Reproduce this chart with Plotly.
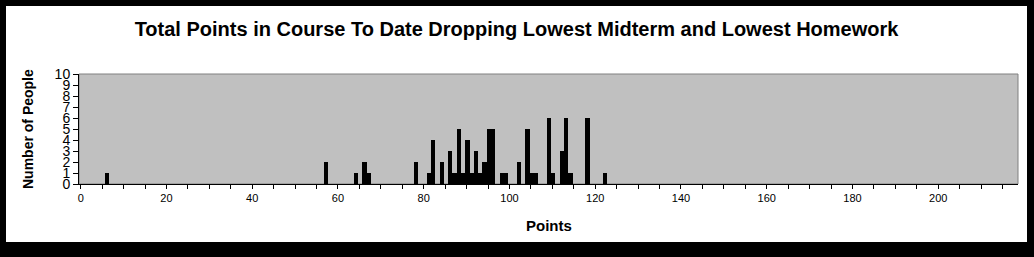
import plotly.graph_objects as go

# Histogram data: points (integer bins) and number of people
points = [6, 57, 64, 66, 67, 78, 81, 82, 84, 86, 87, 88, 89, 90, 91, 92, 93, 94,
          95, 96, 98, 99, 102, 104, 105, 106, 109, 110, 112, 113, 114, 118, 122]
people = [1, 2, 1, 2, 1, 2, 1, 4, 2, 3, 1, 5, 1, 4, 1, 3, 1, 2,
          5, 5, 1, 1, 2, 5, 1, 1, 6, 1, 3, 6, 1, 6, 1]

title_text = "Total Points in Course To Date Dropping Lowest Midterm and Lowest Homework"
x_title = "Points"
y_title = "Number of People"

W, H = 1034, 257
L, R, T, B = 79, 16, 74, 73
pw = W - L - R
ph = H - T - B

fig = go.Figure()
fig.add_trace(go.Bar(x=points, y=people, width=1.0, offset=-0.3,
                     marker=dict(color="black", line=dict(width=0))))

font = "Arial, Liberation Sans, sans-serif"

shapes = [
    # white card inside the black frame
    dict(type="rect", xref="paper", yref="paper", layer="below",
         x0=(6 - L) / pw, x1=(1027 - L) / pw,
         y0=(T + ph - 242) / ph, y1=(T + ph - 6) / ph,
         fillcolor="white", line=dict(width=0)),
    # plot area background with grey border
    dict(type="rect", xref="paper", yref="paper", layer="below",
         x0=0, x1=1, y0=0, y1=1,
         fillcolor="#c0c0c0", line=dict(color="#808080", width=1)),
]

fig.update_layout(
    width=W, height=H,
    margin=dict(l=L, r=R, t=T, b=B, pad=0),
    paper_bgcolor="black",
    plot_bgcolor="#c0c0c0",
    showlegend=False,
    bargap=0,
    shapes=shapes,
    title=dict(text=f"<b>{title_text}</b>", x=516.5 / W, xref="container", xanchor="center",
               y=(H - 29) / H, yref="container", yanchor="middle",
               font=dict(family=font, size=20, color="black")),
    xaxis=dict(range=[-0.4, 218.6], tickmode="linear", tick0=0, dtick=20,
               ticks="outside", ticklen=4, tickwidth=1, tickcolor="black",
               minor=dict(tickmode="linear", tick0=0, dtick=5, ticks="outside",
                          ticklen=4, tickwidth=1, tickcolor="black", showgrid=False),
               showline=True, linecolor="black", linewidth=1,
               showgrid=False, zeroline=False,
               tickfont=dict(family=font, size=11, color="black")),
    yaxis=dict(range=[0, 10], tickmode="linear", tick0=0, dtick=1,
               ticks="outside", ticklen=5, tickwidth=1, tickcolor="black",
               showline=True, linecolor="black", linewidth=1,
               showgrid=False, zeroline=False,
               tickfont=dict(family=font, size=14, color="black")),
    annotations=[
        dict(text=f"<b>{x_title}</b>", xref="paper", yref="paper",
             x=0.5, y=-(225 - (T + ph)) / ph, xanchor="center", yanchor="middle",
             showarrow=False, font=dict(family=font, size=15, color="black")),
        dict(text=f"<b>{y_title}</b>", xref="paper", yref="paper",
             x=(28 - L) / pw, y=0.5, xanchor="center", yanchor="middle",
             textangle=-90, showarrow=False,
             font=dict(family=font, size=14, color="black")),
    ],
)

fig.write_html("out.html")
